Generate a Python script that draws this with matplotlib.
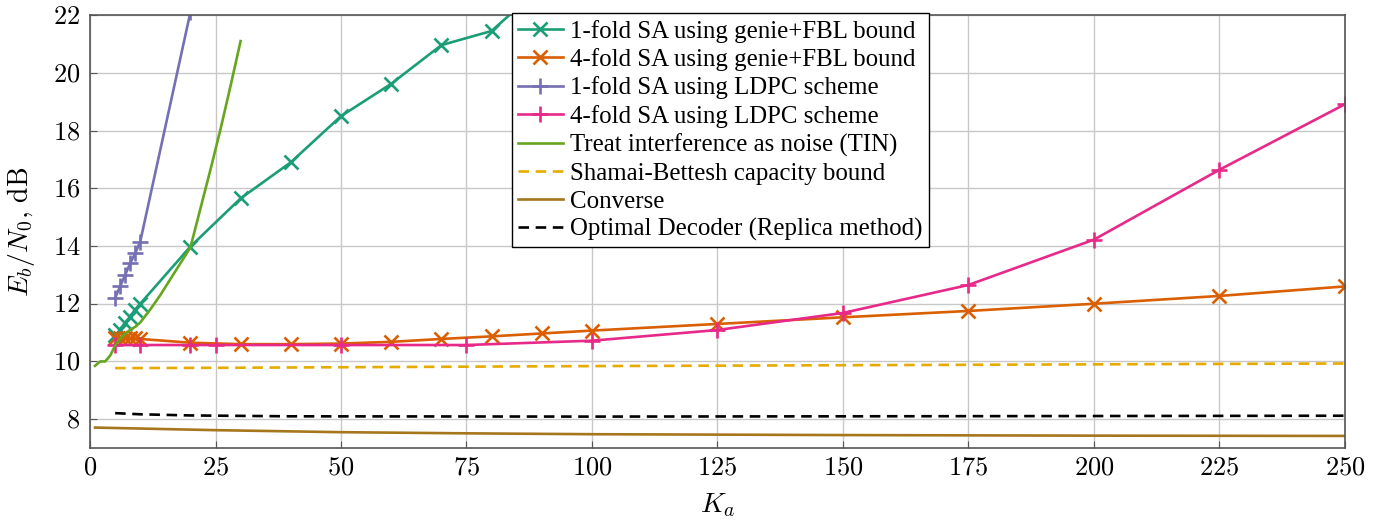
import numpy as np
import matplotlib
matplotlib.use("Agg")
import matplotlib.pyplot as plt
from matplotlib.ticker import FuncFormatter

plt.rcParams['font.family'] = ['Liberation Serif', 'DejaVu Serif']
plt.rcParams['mathtext.fontset'] = 'cm'

# Data
ka_fbl1 = [5, 6, 7, 8, 9, 10, 20, 30, 40, 50, 60, 70, 80, 90]
eb_fbl1 = [10.9, 11.1, 11.35, 11.55, 11.8, 12.0, 13.98, 15.65, 16.9, 18.5, 19.62, 20.96, 21.45, 23.0]

ka_fbl4 = [5, 6, 7, 8, 9, 10, 20, 30, 40, 50, 60, 70, 80, 90, 100, 125, 150, 175, 200, 225, 250]
eb_fbl4 = [10.82, 10.82, 10.8, 10.8, 10.8, 10.78, 10.65, 10.6, 10.6, 10.62, 10.68, 10.78, 10.87,
           10.97, 11.07, 11.3, 11.53, 11.75, 12.0, 12.27, 12.6]

ka_ldpc1 = [5, 6, 7, 8, 9, 10, 20]
eb_ldpc1 = [12.2, 12.6, 13.0, 13.4, 13.75, 14.15, 22.1]

ka_ldpc4 = [5, 10, 20, 25, 50, 75, 100, 125, 150, 175, 200, 225, 250]
eb_ldpc4 = [10.57, 10.57, 10.57, 10.57, 10.57, 10.57, 10.72, 11.09, 11.68, 12.65, 14.22, 16.64, 18.91]

ka_tin = [1, 2, 3, 4, 5, 6, 7, 8, 9, 10, 12, 14, 16, 18, 20, 22, 24, 26, 28, 30]
eb_tin = [9.85, 10.0, 10.0, 10.2, 10.55, 10.8, 10.95, 11.1, 11.2, 11.35, 11.8, 12.3, 12.85, 13.4,
          13.95, 15.3, 16.65, 18.05, 19.55, 21.1]

ka_sb = [5, 25, 50, 100, 150, 200, 250]
eb_sb = [9.77, 9.78, 9.8, 9.84, 9.87, 9.9, 9.93]

ka_conv = [1, 25, 50, 75, 100, 150, 200, 250]
eb_conv = [7.71, 7.62, 7.55, 7.51, 7.48, 7.45, 7.43, 7.42]

ka_opt = [5, 10, 20, 40, 100, 150, 200, 250]
eb_opt = [8.21, 8.17, 8.13, 8.1, 8.09, 8.1, 8.11, 8.12]

fig = plt.figure(figsize=(13.85, 5.21), dpi=100)
ax = fig.add_axes([0.065, 0.14, 0.906, 0.831])

lw = 1.9
ax.plot(ka_fbl1, eb_fbl1, color='#1b9e77', lw=lw, marker='x', ms=9.5, mew=1.9,
        label='1-fold SA using genie+FBL bound')
ax.plot(ka_fbl4, eb_fbl4, color='#d95f02', lw=lw, marker='x', ms=9.5, mew=1.9,
        label='4-fold SA using genie+FBL bound')
ax.plot(ka_ldpc1, eb_ldpc1, color='#7570b3', lw=lw, marker='+', ms=12, mew=1.9,
        label='1-fold SA using LDPC scheme')
ax.plot(ka_ldpc4, eb_ldpc4, color='#e7298a', lw=lw, marker='+', ms=12, mew=1.9,
        label='4-fold SA using LDPC scheme')
ax.plot(ka_tin, eb_tin, color='#66a61e', lw=lw,
        label='Treat interference as noise (TIN)')
ax.plot(ka_sb, eb_sb, color='#e6ab02', lw=lw, ls=(0, (4, 2.5)),
        label='Shamai-Bettesh capacity bound')
ax.plot(ka_conv, eb_conv, color='#a6761d', lw=lw, label='Converse')
ax.plot(ka_opt, eb_opt, color='black', lw=lw, ls=(0, (4, 2.5)),
        label='Optimal Decoder (Replica method)')

ax.set_xlim(0, 250)
ax.set_ylim(7, 22)
ax.set_xticks(np.arange(0, 251, 25))
ax.set_yticks(np.arange(8, 23, 2))
fmt = FuncFormatter(lambda v, p: r'$%d$' % v)
ax.xaxis.set_major_formatter(fmt)
ax.yaxis.set_major_formatter(fmt)
ax.tick_params(labelsize=19, direction='in', length=5, color='#555555', pad=7)
ax.grid(True, color='#c8c8c8', lw=1)
for s in ax.spines.values():
    s.set_color('#555555')
    s.set_linewidth(1.2)

ax.set_xlabel(r'$K_a$', fontsize=20, labelpad=8)
ax.set_ylabel(r'$E_b/N_0,\,\mathrm{dB}$', fontsize=20, labelpad=11)

leg = ax.legend(loc='upper left', bbox_to_anchor=(0.336, 1.004), borderaxespad=0,
                fontsize=17.9, handlelength=1.8, handletextpad=0.3, labelspacing=0.22,
                borderpad=0.25, fancybox=False, framealpha=1, edgecolor='black')
leg.get_frame().set_linewidth(1.0)

fig.savefig('out.png', dpi=100)
